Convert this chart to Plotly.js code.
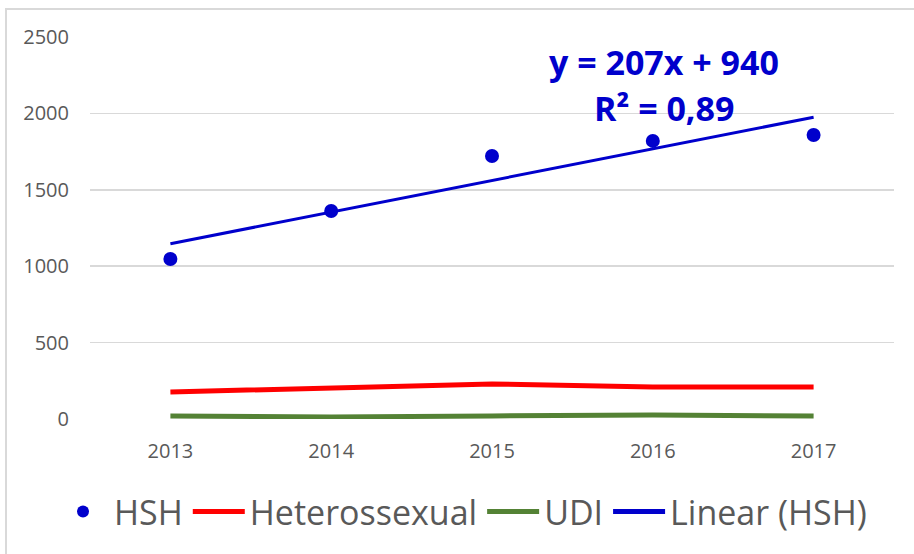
<!DOCTYPE html>
<html>
<head>
<meta charset="utf-8">
<script src="https://cdn.plot.ly/plotly-3.0.1.min.js"></script>
<style>
  html, body { margin: 0; padding: 0; background: #fff; }
  #frame { position: absolute; left: 5px; top: 8px; width: 920px; height: 560px;
           border-left: 2px solid #d9d9d9; border-top: 2px solid #d9d9d9; pointer-events: none; }
  #chart { width: 914px; height: 554px; }
</style>
</head>
<body>
<div id="chart"></div>
<div id="frame"></div>
<script>
const years = ["2013", "2014", "2015", "2016", "2017"];
const hsh = [1047, 1361, 1721, 1820, 1859];
const hetero = [177, 203, 229, 209, 209];
const udi = [20, 13, 20, 26, 20];
const trendYears = ["2013", "2017"];
const trendValues = [1147, 1975];
const yTicks = [0, 500, 1000, 1500, 2000, 2500];

const FONT = "Open Sans, Noto Sans, sans-serif";

const traces = [
  { x: years, y: hsh, name: "HSH", type: "scatter", mode: "markers",
    marker: { color: "#0000CC", size: 14 } },
  { x: years, y: hetero, name: "Heterossexual", type: "scatter", mode: "lines",
    line: { color: "#FF0000", width: 5 } },
  { x: years, y: udi, name: "UDI", type: "scatter", mode: "lines",
    line: { color: "#548235", width: 5 } },
  { x: trendYears, y: trendValues, name: "Linear (HSH)", type: "scatter", mode: "lines",
    line: { color: "#0000CC", width: 3 } }
];

const layout = {
  width: 914, height: 554,
  margin: { l: 90, r: 20, t: 37, b: 135 },
  paper_bgcolor: "#fff", plot_bgcolor: "#fff",
  font: { family: FONT, color: "#595959", size: 20 },
  showlegend: true,
  legend: { orientation: "h", xref: "paper", yref: "paper",
            x: (52 - 90) / 804, xanchor: "left", y: (419 - 512) / 382, yanchor: "middle",
            font: { size: 34, color: "#595959", family: FONT },
            itemwidth: 52, itemsizing: "constant", traceorder: "normal",
            bgcolor: "rgba(0,0,0,0)" },
  xaxis: { type: "category", range: [-0.5, 4.5], showgrid: false, zeroline: false,
           showline: false, ticks: "", ticklabelstandoff: 18,
           tickfont: { size: 20, color: "#595959", family: FONT } },
  yaxis: { range: [0, 2500], tickvals: yTicks, ticktext: yTicks.map(String),
           showgrid: true, gridcolor: "#d9d9d9", gridwidth: 1.5, zeroline: false,
           showline: false, ticks: "", ticklabelstandoff: 20,
           tickfont: { size: 20, color: "#595959", family: FONT } },
  annotations: [
    { xref: "paper", yref: "paper", x: (664 - 90) / 804, y: (419 - 62) / 382,
      text: "<b>y = 207x + 940</b>", showarrow: false, xanchor: "center", yanchor: "middle",
      font: { size: 34, color: "#0000CC", family: FONT } },
    { xref: "paper", yref: "paper", x: (664 - 90) / 804, y: (419 - 108) / 382,
      text: "<b>R² = 0,89</b>", showarrow: false, xanchor: "center", yanchor: "middle",
      font: { size: 34, color: "#0000CC", family: FONT } }
  ]
};

Plotly.newPlot("chart", traces, layout, { displayModeBar: false, staticPlot: true });
</script>
</body>
</html>
